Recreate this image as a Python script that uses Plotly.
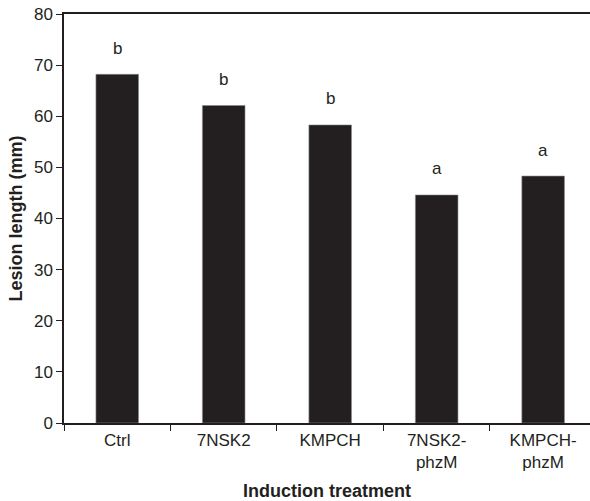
import plotly.graph_objects as go

categories = ["Ctrl", "7NSK2", "KMPCH", "7NSK2-<br>phzM", "KMPCH-<br>phzM"]
values = [68.2, 62.1, 58.3, 44.6, 48.3]
letters = ["b", "b", "b", "a", "a"]

ink = "#231f20"
font = "Liberation Sans, Arial, sans-serif"

fig = go.Figure()
fig.add_trace(go.Bar(
    x=categories, y=values, width=0.4,
    marker=dict(color=ink, line=dict(color="#8a8a8a", width=0.6)),
))
for c, v, t in zip(categories, values, letters):
    fig.add_annotation(x=c, y=v, text=t, showarrow=False, yshift=26,
                       font=dict(family=font, size=17, color=ink))

fig.update_layout(
    width=590, height=501,
    margin=dict(l=64, r=0, t=14, b=78),
    paper_bgcolor="white", plot_bgcolor="white",
    showlegend=False,
    font=dict(family=font, color=ink, size=17),
    xaxis=dict(
        type="category", range=[-0.5, 4.44], automargin=False,
        showline=True, linecolor=ink, linewidth=1.5, mirror=True,
        ticks="outside", tickson="boundaries", ticklen=6, tickcolor=ink,
        ticklabelstandoff=1,
        tickfont=dict(size=17), showgrid=False,
        title=dict(text="<b>Induction treatment</b>", font=dict(size=18), standoff=14),
    ),
    yaxis=dict(
        range=[0, 80], dtick=10, automargin=False,
        showline=True, linecolor=ink, linewidth=1.5,
        ticks="outside", ticklen=6, tickcolor=ink,
        tickfont=dict(size=17), showgrid=False, zeroline=False,
        title=dict(text="<b>Lesion length (mm)</b>", font=dict(size=18), standoff=7),
    ),
)

fig.write_html(
    "out.html",
    config={"displayModeBar": False},
    post_script="document.body.style.margin='0';document.body.style.overflow='hidden';",
)
